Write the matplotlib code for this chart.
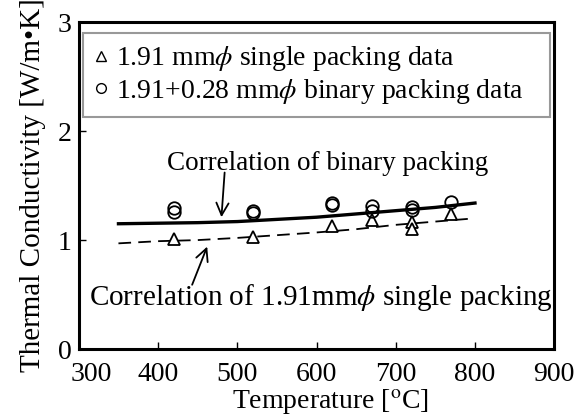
import matplotlib.pyplot as plt
import matplotlib.transforms as mtransforms
from matplotlib.lines import Line2D

plt.rcParams['font.family'] = ['Liberation Serif', 'DejaVu Serif']
plt.rcParams['mathtext.fontset'] = 'stix'

# measured points
single_T = [420, 520, 620, 670, 720, 720, 770]
single_k = [1.01, 1.03, 1.13, 1.18, 1.17, 1.10, 1.24]
binary_T = [420, 420, 520, 520, 620, 620, 670, 670, 720, 720, 770]
binary_k = [1.29, 1.26, 1.27, 1.25, 1.34, 1.32, 1.31, 1.27, 1.30, 1.28, 1.35]

# correlations
corr_T = [350, 400, 450, 500, 550, 600, 650, 700, 750, 800]
corr_binary = [1.15, 1.155, 1.16, 1.17, 1.19, 1.21, 1.24, 1.27, 1.30, 1.34]
corr_single = [0.97, 0.99, 1.00, 1.02, 1.045, 1.07, 1.10, 1.14, 1.17, 1.20]

fig = plt.figure(figsize=(5.84, 4.19), dpi=100)
ax = fig.add_axes([0.135, 0.167, 0.814, 0.78])

ax.plot(corr_T, corr_binary, color='black', lw=2.4)
ax.plot(corr_T, corr_single, color='black', lw=1.3, ls=(0, (7, 4)))
ax.plot(single_T, single_k, ls='none', marker='^', ms=9, mfc='white', mec='black', mew=1.3)
ax.plot(binary_T, binary_k, ls='none', marker='o', ms=9, mfc='none', mec='black', mew=1.3)

fs = 20
ax.text(614, 1.70, 'Correlation of binary packing', fontsize=19.5, ha='center', va='center')
ax.annotate('', xy=(480, 1.21), xytext=(484, 1.62),
            arrowprops=dict(arrowstyle='->', color='black', lw=1.3, mutation_scale=22,
                            shrinkA=0, shrinkB=0))
ax.text(606, 0.47, r'Correlation of 1.91mm$\phi$ single packing', fontsize=21,
        ha='center', va='center')
ax.annotate('', xy=(462, 0.94), xytext=(443, 0.59),
            arrowprops=dict(arrowstyle='->', color='black', lw=1.3, mutation_scale=22,
                            shrinkA=0, shrinkB=0))

handles = [
    Line2D([], [], ls='none', marker='^', ms=7, mfc='white', mec='black', mew=1.0),
    Line2D([], [], ls='none', marker='o', ms=7, mfc='none', mec='black', mew=1.0),
]
labels = [r'1.91 mm$\phi$ single packing data', r'1.91+0.28 mm$\phi$ binary packing data']
leg = ax.legend(handles, labels, loc='upper left', bbox_to_anchor=(0.008, 0.966, 0.983, 0.0),
                mode='expand', fontsize=fs, handlelength=0.5, handletextpad=0.3,
                borderpad=0.4, labelspacing=0.12, fancybox=False, borderaxespad=0)
leg.get_frame().set_edgecolor('gray')
leg.get_frame().set_linewidth(1.5)

ax.set_xlim(300, 900)
ax.set_ylim(0, 3)
ax.set_xticks([300, 400, 500, 600, 700, 800, 900])
ax.set_yticks([0, 1, 2, 3])
ax.tick_params(direction='in', labelsize=fs, length=5, width=1)
ax.tick_params(axis='x', pad=9)
ax.tick_params(axis='y', pad=5)
for s in ax.spines.values():
    s.set_linewidth(2.2)

# the reference nudges the first x label right, clear of the "0"
first = ax.get_xticklabels()[0]
first.set_transform(first.get_transform() + mtransforms.ScaledTranslation(0.12, 0, fig.dpi_scale_trans))

ax.set_xlabel(r'Temperature [$^{\rm o}$C]', fontsize=fs, labelpad=0)
ax.xaxis.label.set_x(0.53)
ax.set_ylabel('Thermal Conductivity [W/m\u2022K]', fontsize=21, labelpad=9)

fig.savefig('out.png', dpi=100)
